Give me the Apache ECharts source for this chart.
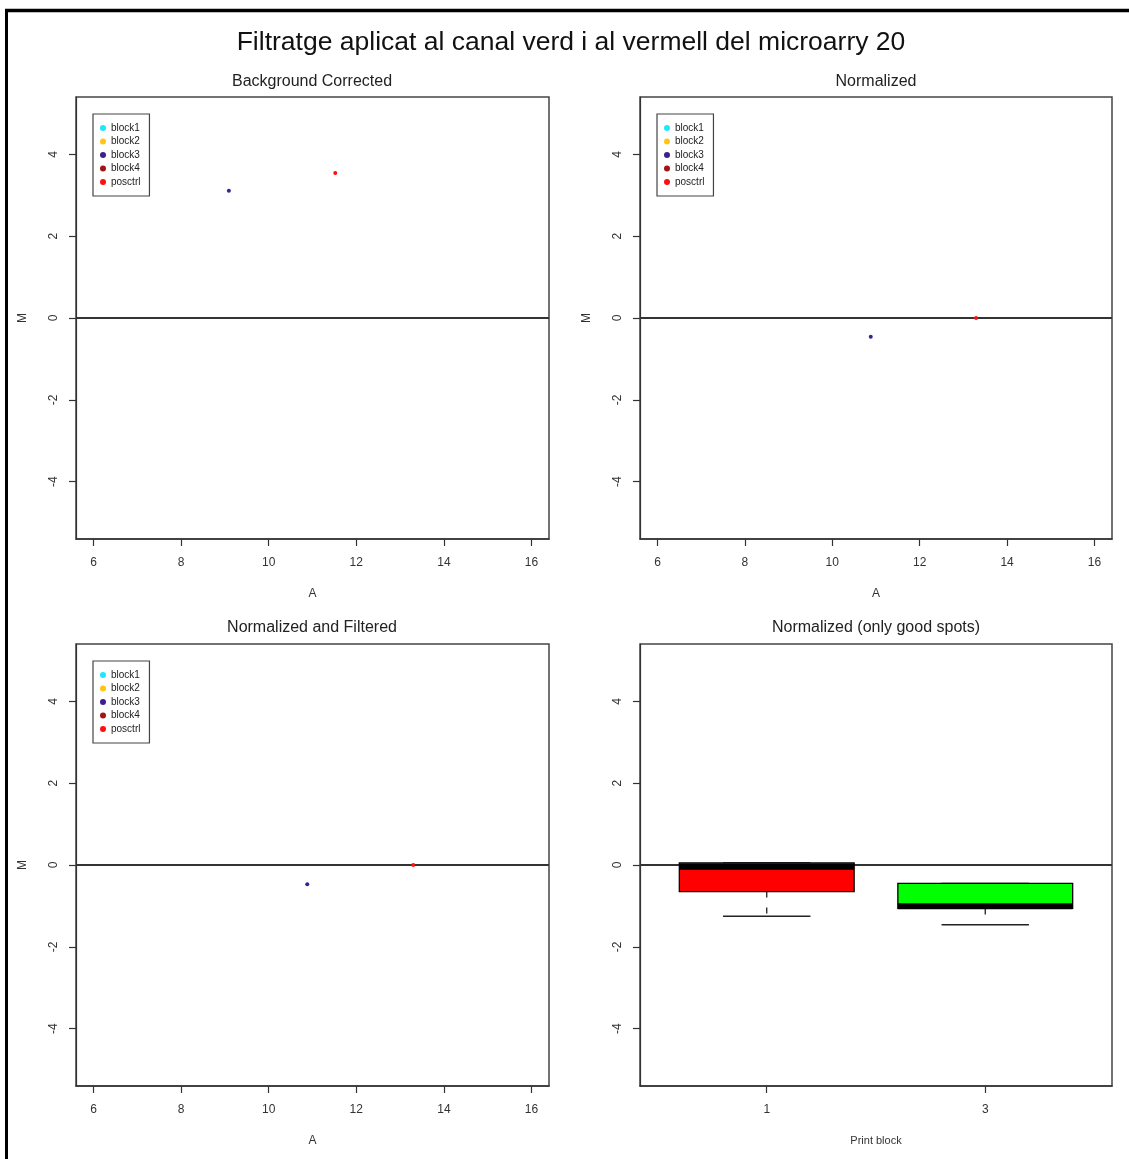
<!DOCTYPE html>
<html>
<head>
<meta charset="utf-8">
<title>Filtratge microarry 20</title>
<script src="https://cdn.jsdelivr.net/npm/echarts@6/dist/echarts.min.js"></script>
<style>
  html, body { margin: 0; padding: 0; background: #fff; }
  #chart { width: 1129px; height: 1159px; }
</style>
</head>
<body>
<div id="chart"></div>
<script>
// ---- data ----
const mainTitle = 'Filtratge aplicat al canal verd i al vermell del microarry 20';
const panelTitles = ['Background Corrected', 'Normalized', 'Normalized and Filtered', 'Normalized (only good spots)'];

const groupNames = ['block1', 'block2', 'block3', 'block4', 'posctrl'];
const groupColors = ['#1fe6ff', '#ffc515', '#3d1f8e', '#a31414', '#ff1010'];

const aTicks = [6, 8, 10, 12, 14, 16];
const mTicks = [-4, -2, 0, 2, 4];
const aRange = [5.6, 16.4];
const mRange = [-5.4, 5.4];

// M vs A points, one list per print block (same order as groupNames)
const bgCorrectedPoints = [[], [], [[9.09, 3.11]], [], [[11.52, 3.54]]];
const normalizedPoints = [[], [], [[10.88, -0.46]], [], [[13.29, 0.0]]];
const filteredPoints = [[], [], [[10.88, -0.47]], [], [[13.30, 0.0]]];

// boxplot of M per print block (good spots only): [min, Q1, median, Q3, max]
const boxLabels = ['1', '3'];
const boxPositions = [1, 2];
const boxStats = [
  [-1.25, -0.65, -0.04, 0.05, 0.05],
  [-1.46, -1.06, -1.01, -0.45, -0.45]
];
const boxColors = ['#ff0000', '#00ff00'];
const boxRange = [0.42, 2.58];

// ---- layout ----
const grids = [
  { left: 76, top: 97, width: 473, height: 442 },
  { left: 640, top: 97, width: 472, height: 442 },
  { left: 76, top: 644, width: 473, height: 442 },
  { left: 640, top: 644, width: 472, height: 442 }
];
const FONT = 'Liberation Sans, Arial, Helvetica, sans-serif';
const AXIS_COLOR = '#333';

function xAxisFor(i, isBox) {
  const ticks = isBox ? boxPositions : aTicks;
  return {
    type: 'value',
    gridIndex: i,
    min: isBox ? boxRange[0] : aRange[0],
    max: isBox ? boxRange[1] : aRange[1],
    splitLine: { show: false },
    axisLine: { show: true, onZero: false, lineStyle: { color: AXIS_COLOR, width: 1.5 } },
    axisTick: { show: true, customValues: ticks, length: 7, lineStyle: { color: AXIS_COLOR, width: 1.2 } },
    axisLabel: {
      customValues: ticks, margin: 18, fontSize: 12, color: AXIS_COLOR, fontFamily: FONT,
      formatter: isBox ? (v) => boxLabels[boxPositions.indexOf(v)] : (v) => String(v)
    },
    name: isBox ? 'Print block' : 'A',
    nameLocation: 'middle',
    nameGap: 49,
    nameTextStyle: { fontSize: isBox ? 11 : 12, color: AXIS_COLOR, fontFamily: FONT }
  };
}

function yAxisFor(i, withName) {
  return {
    type: 'value',
    gridIndex: i,
    min: mRange[0],
    max: mRange[1],
    splitLine: { show: false },
    axisLine: { show: true, onZero: false, lineStyle: { color: AXIS_COLOR, width: 1.2 } },
    axisTick: { show: true, customValues: mTicks, length: 7, lineStyle: { color: AXIS_COLOR, width: 1.2 } },
    axisLabel: {
      customValues: mTicks, rotate: 90, margin: 16, fontSize: 12, color: AXIS_COLOR, fontFamily: FONT
    },
    name: withName ? 'M' : '',
    nameLocation: 'middle',
    nameGap: 47,
    nameRotate: 90,
    nameTextStyle: { fontSize: 12, color: AXIS_COLOR, fontFamily: FONT }
  };
}

function zeroLine(i, range) {
  return {
    type: 'line',
    xAxisIndex: i,
    yAxisIndex: i,
    data: [[range[0], 0], [range[1], 0]],
    symbol: 'none',
    silent: true,
    z: 1,
    lineStyle: { color: '#333', width: 1.8 }
  };
}

function pointSeries(i, points) {
  return groupNames.map((name, g) => ({
    type: 'scatter',
    name: name,
    xAxisIndex: i,
    yAxisIndex: i,
    data: points[g],
    symbol: 'circle',
    symbolSize: 4,
    z: 3,
    itemStyle: { color: groupColors[g], opacity: 1 }
  }));
}

function legendFor(left, top) {
  return {
    show: true,
    orient: 'vertical',
    left: left,
    top: top,
    data: groupNames,
    icon: 'circle',
    itemWidth: 6,
    itemHeight: 6,
    itemGap: 1.5,
    itemSymbolKeepAspect: true,
    itemTextGap: 5,
    padding: [8, 9, 8, 7],
    borderColor: '#444',
    borderWidth: 1.2,
    selectedMode: false,
    itemStyle: { opacity: 1 },
    textStyle: { fontSize: 10, lineHeight: 12, color: '#222', fontFamily: FONT }
  };
}

// box-and-whisker drawn through the panel's own axes
function renderBox(params, api) {
  const x = api.value(0);
  const mn = api.value(1), q1 = api.value(2), md = api.value(3), q3 = api.value(4), mx = api.value(5);
  const halfBox = api.size([0.8, 0])[0] / 2;
  const halfCap = api.size([0.4, 0])[0] / 2;
  const pMin = api.coord([x, mn]);
  const pQ1 = api.coord([x, q1]);
  const pMd = api.coord([x, md]);
  const pQ3 = api.coord([x, q3]);
  const pMax = api.coord([x, mx]);
  const cx = pMd[0];
  const stroke = { stroke: '#000', lineWidth: 1.3 };
  const dashed = { stroke: '#222', lineWidth: 1.3, lineDash: [6, 10] };
  const children = [];
  if (pMin[1] > pQ1[1]) {
    children.push({ type: 'line', shape: { x1: cx, y1: pQ1[1], x2: cx, y2: pMin[1] }, style: dashed });
  }
  children.push({ type: 'line', shape: { x1: cx - halfCap, y1: pMin[1], x2: cx + halfCap, y2: pMin[1] }, style: { stroke: '#222', lineWidth: 1.5 } });
  if (pMax[1] < pQ3[1]) {
    children.push({ type: 'line', shape: { x1: cx, y1: pQ3[1], x2: cx, y2: pMax[1] }, style: dashed });
  }
  children.push({ type: 'line', shape: { x1: cx - halfCap, y1: pMax[1], x2: cx + halfCap, y2: pMax[1] }, style: { stroke: '#222', lineWidth: 1.5 } });
  children.push({
    type: 'rect',
    shape: { x: cx - halfBox, y: pQ3[1], width: halfBox * 2, height: pQ1[1] - pQ3[1] },
    style: Object.assign({ fill: boxColors[params.dataIndex] }, stroke)
  });
  children.push({ type: 'line', shape: { x1: cx - halfBox, y1: pMd[1], x2: cx + halfBox, y2: pMd[1] }, style: { stroke: '#000', lineWidth: 6 } });
  return { type: 'group', children: children };
}

const boxData = boxStats.map((s, i) => [boxPositions[i]].concat(s));

const option = {
  animation: false,
  backgroundColor: '#fff',
  textStyle: { fontFamily: FONT },
  grid: grids.map((g) => Object.assign({ show: true, borderColor: '#444', borderWidth: 1.5, containLabel: false }, g)),
  xAxis: [xAxisFor(0, false), xAxisFor(1, false), xAxisFor(2, false), xAxisFor(3, true)],
  yAxis: [yAxisFor(0, true), yAxisFor(1, true), yAxisFor(2, true), yAxisFor(3, false)],
  legend: [legendFor(93, 114), legendFor(657, 114), legendFor(93, 661)],
  series: [].concat(
    [zeroLine(0, aRange), zeroLine(1, aRange), zeroLine(2, aRange), zeroLine(3, boxRange)],
    pointSeries(0, bgCorrectedPoints),
    pointSeries(1, normalizedPoints),
    pointSeries(2, filteredPoints),
    [{
      type: 'custom',
      name: 'M by print block',
      xAxisIndex: 3,
      yAxisIndex: 3,
      data: boxData,
      encode: { x: 0, y: [1, 2, 3, 4, 5] },
      renderItem: renderBox,
      z: 2,
      silent: true
    }]
  ),
  graphic: [
    { type: 'line', shape: { x1: 5, y1: 10.5, x2: 1129, y2: 10.5 }, style: { stroke: '#000', lineWidth: 3.5 }, silent: true },
    { type: 'line', shape: { x1: 6.5, y1: 9, x2: 6.5, y2: 1159 }, style: { stroke: '#000', lineWidth: 3 }, silent: true },
    { type: 'text', x: 571, y: 43, style: { text: mainTitle, font: '26.5px ' + FONT, fill: '#111', textAlign: 'center', textVerticalAlign: 'middle' } },
    { type: 'text', x: 312, y: 82, style: { text: panelTitles[0], font: '16px ' + FONT, fill: '#222', textAlign: 'center', textVerticalAlign: 'middle' } },
    { type: 'text', x: 876, y: 82, style: { text: panelTitles[1], font: '16px ' + FONT, fill: '#222', textAlign: 'center', textVerticalAlign: 'middle' } },
    { type: 'text', x: 312, y: 628, style: { text: panelTitles[2], font: '16px ' + FONT, fill: '#222', textAlign: 'center', textVerticalAlign: 'middle' } },
    { type: 'text', x: 876, y: 628, style: { text: panelTitles[3], font: '16px ' + FONT, fill: '#222', textAlign: 'center', textVerticalAlign: 'middle' } }
  ]
};

const chart = echarts.init(document.getElementById('chart'), null, { renderer: 'canvas' });
chart.setOption(option);
</script>
</body>
</html>
